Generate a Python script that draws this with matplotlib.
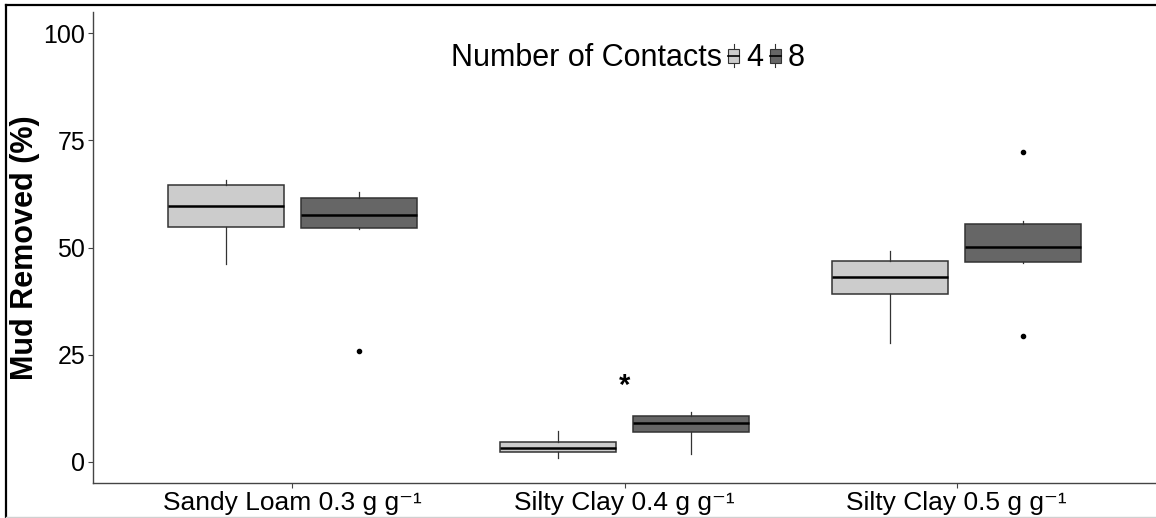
import matplotlib
matplotlib.use('Agg')
import matplotlib.pyplot as plt
from matplotlib.legend_handler import HandlerBase
from matplotlib.patches import Rectangle
from matplotlib.lines import Line2D

plt.rcParams['font.family'] = ['Liberation Sans', 'DejaVu Sans']

soils = ['Sandy Loam 0.3 g g⁻¹', 'Silty Clay 0.4 g g⁻¹', 'Silty Clay 0.5 g g⁻¹']
contacts = ['4', '8']
fills = ['#cccccc', '#666666']

# box summaries per soil (4 contacts)
med_4 = [59.7, 3.2, 43.1]
q1_4 = [54.9, 2.3, 39.1]
q3_4 = [64.6, 4.6, 46.8]
lo_4 = [46.2, 0.9, 27.7]
hi_4 = [65.7, 7.2, 49.1]
out_4 = [[], [], []]

# box summaries per soil (8 contacts)
med_8 = [57.5, 8.9, 50.2]
q1_8 = [54.6, 6.9, 46.6]
q3_8 = [61.6, 10.6, 55.4]
lo_8 = [54.4, 1.8, 46.4]
hi_8 = [63.0, 11.6, 56.3]
out_8 = [[25.9], [], [72.4, 29.3]]

# significance marker
sig_soil = 1
sig_y = 15.9


def make_stats(med, q1, q3, lo, hi, out):
    return [dict(med=m, q1=a, q3=b, whislo=l, whishi=h, fliers=f)
            for m, a, b, l, h, f in zip(med, q1, q3, lo, hi, out)]


class BoxKey(HandlerBase):
    def create_artists(self, legend, orig_handle, xdescent, ydescent,
                       width, height, fontsize, trans):
        x0, y0 = -xdescent, -ydescent
        cx = x0 + width / 2
        b0, b1 = y0 + 0.2 * height, y0 + 0.78 * height
        whisk = Line2D([cx, cx], [y0, y0 + height], color='#333333', lw=0.8, transform=trans)
        box = Rectangle((x0, b0), width, b1 - b0, facecolor=orig_handle.get_facecolor(),
                        edgecolor='#333333', lw=0.8, transform=trans)
        mid = Line2D([x0, x0 + width], [(b0 + b1) / 2] * 2, color='black', lw=1.2, transform=trans)
        return [whisk, box, mid]


fig = plt.figure(figsize=(11.56, 5.18), dpi=100)
ax = fig.add_axes([93 / 1156, 35 / 518, 1063 / 1156, 471 / 518])

groups = [make_stats(med_4, q1_4, q3_4, lo_4, hi_4, out_4),
          make_stats(med_8, q1_8, q3_8, lo_8, hi_8, out_8)]
offsets = [-0.2, 0.2]
for stats, off, col in zip(groups, offsets, fills):
    pos = [i + 1 + off for i in range(len(soils))]
    ax.bxp(stats, positions=pos, widths=0.35, patch_artist=True, showcaps=False,
           boxprops=dict(facecolor=col, edgecolor='#333333', linewidth=1.1),
           medianprops=dict(color='black', linewidth=1.8),
           whiskerprops=dict(color='#333333', linewidth=0.9),
           flierprops=dict(marker='o', markersize=3, markerfacecolor='black',
                           markeredgecolor='black'))

ax.text(sig_soil + 1, sig_y, '*', ha='center', va='baseline', fontsize=21, fontweight='bold')

ax.set_xlim(0.4, 3.6)
ax.set_ylim(-5, 105)
ax.set_xticks([1, 2, 3])
ax.set_xticklabels(soils)
ax.set_yticks([0, 25, 50, 75, 100])
ax.tick_params(length=3.5, width=0.8, color='#444444', pad=2)
ax.tick_params(axis='x', labelsize=19)
ax.tick_params(axis='y', labelsize=18)
for s in ['top', 'right']:
    ax.spines[s].set_visible(False)
for s in ['left', 'bottom']:
    ax.spines[s].set_color('#444444')
    ax.spines[s].set_linewidth(1.0)

fig.text(25 / 1156, 1 - 247.5 / 518, 'Mud Removed (%)', rotation=90,
         ha='center', va='center', fontsize=22, fontweight='bold')

# legend: title on the left, mini box keys on the right
fig.text(722 / 1156, 1 - 58 / 518, 'Number of Contacts', ha='right', va='center', fontsize=22)
handles = [Rectangle((0, 0), 1, 1, facecolor=c) for c in fills]
fig.legend(handles, contacts, handler_map={Rectangle: BoxKey()}, ncol=2,
           loc='center left', bbox_to_anchor=(728 / 1156, 1 - 58 / 518),
           frameon=False, fontsize=22, handlelength=0.37, handleheight=0.82,
           handletextpad=0.22, columnspacing=0.22, borderpad=0, borderaxespad=0)

# outer frame
fig.add_artist(Line2D([6 / 1156, 6 / 1156], [0, 1 - 5 / 518], transform=fig.transFigure,
                      color='black', lw=1.6))
fig.add_artist(Line2D([6 / 1156, 1], [1 - 5 / 518, 1 - 5 / 518], transform=fig.transFigure,
                      color='black', lw=1.6))
fig.add_artist(Line2D([6 / 1156, 1], [1.5 / 518, 1.5 / 518], transform=fig.transFigure,
                      color='#d0d0d0', lw=1.0))

fig.savefig('out.png', dpi=100)
